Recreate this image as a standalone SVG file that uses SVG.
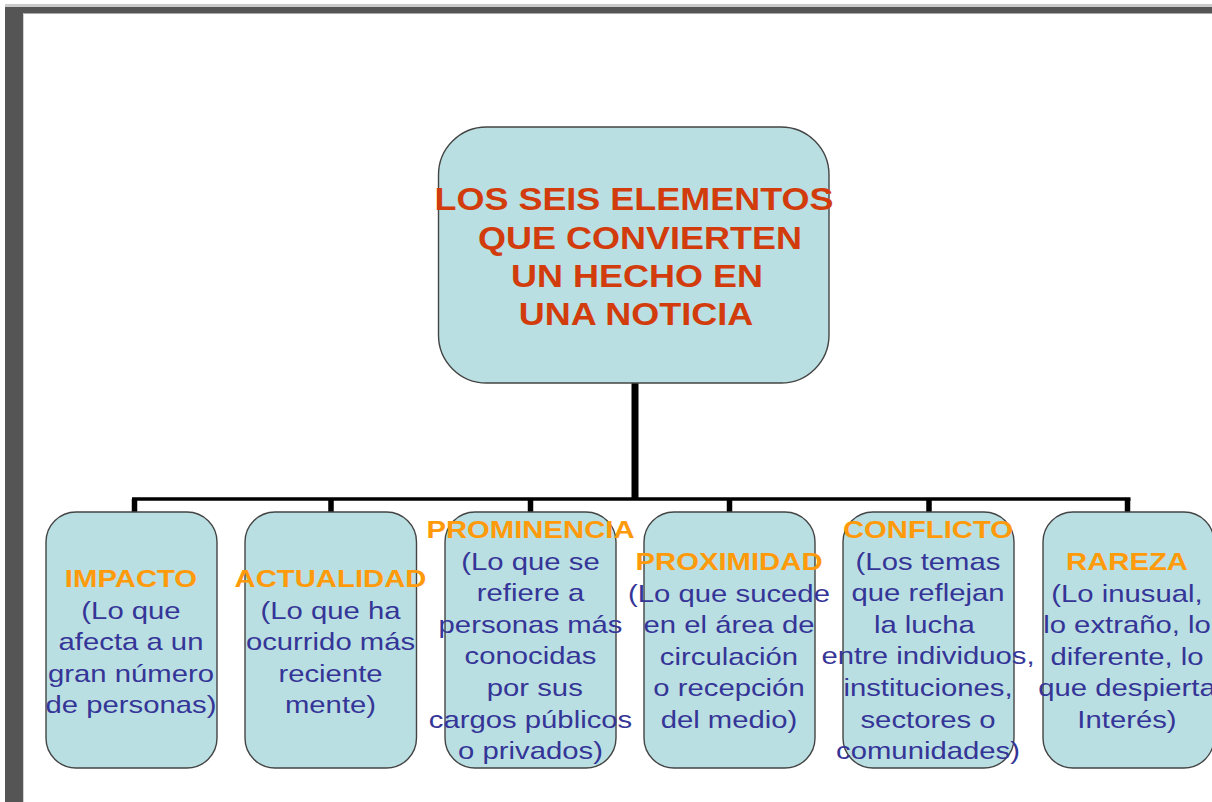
<svg xmlns="http://www.w3.org/2000/svg" width="1212" height="802" viewBox="0 0 1212 802">
<style>
.box{fill:#b9dfe2;stroke:#444;stroke-width:1.4}
.main{font-family:"Liberation Sans",Arial,sans-serif;font-weight:bold;font-size:30.5px;fill:#d23c0c;text-anchor:middle}
.t{font-family:"Liberation Sans",Arial,sans-serif;font-weight:bold;font-size:24px;fill:#ff9a0a;text-anchor:middle}
.b{font-family:"Liberation Sans",Arial,sans-serif;font-size:24px;fill:#353597;text-anchor:middle}
.wire{stroke:#000;fill:none}
</style>
<rect x="0" y="0" width="1212" height="802" fill="#fff"/>
<g id="frame">
<rect x="5" y="4" width="1207" height="3" fill="#cacaca"/>
<rect x="5" y="7" width="1207" height="6.5" fill="#555"/>
<rect x="5" y="7" width="18" height="795" fill="#555"/>
<rect x="23" y="13.5" width="1" height="789" fill="#d0d0d0"/>
</g>
<g id="connectors">
<line class="wire" x1="635" y1="383" x2="635" y2="500" stroke-width="7"/>
<line class="wire" x1="132" y1="499" x2="1130.5" y2="499" stroke-width="3.5"/>
<line class="wire" x1="134.5" y1="499" x2="134.5" y2="512" stroke-width="5.5"/>
<line class="wire" x1="331" y1="499" x2="331" y2="512" stroke-width="5.5"/>
<line class="wire" x1="530.5" y1="499" x2="530.5" y2="512" stroke-width="5.5"/>
<line class="wire" x1="729.5" y1="499" x2="729.5" y2="512" stroke-width="5.5"/>
<line class="wire" x1="929" y1="499" x2="929" y2="512" stroke-width="5.5"/>
<line class="wire" x1="1127.5" y1="499" x2="1127.5" y2="512" stroke-width="5.5"/>
</g>
<g id="root">
<rect class="box" x="438.5" y="127" width="390.5" height="256" rx="48" ry="48"/>
<g transform="translate(634 0) scale(1.18 1)"><text class="main" x="0" y="210">LOS SEIS ELEMENTOS</text></g>
<g transform="translate(640 0) scale(1.18 1)"><text class="main" x="0" y="249">QUE CONVIERTEN</text></g>
<g transform="translate(637 0) scale(1.18 1)"><text class="main" x="0" y="287">UN HECHO EN</text></g>
<g transform="translate(636 0) scale(1.18 1)"><text class="main" x="0" y="325">UNA NOTICIA</text></g>
</g>
<g id="impacto">
<rect class="box" x="46" y="512" width="171" height="256" rx="30" ry="30"/>
<g transform="translate(131 0) scale(1.22 1)">
<text class="t" x="0" y="587">IMPACTO</text>
<text class="b" x="0" y="619">(Lo que</text>
<text class="b" x="0" y="650.5">afecta a un</text>
<text class="b" x="0" y="682">gran número</text>
<text class="b" x="0" y="713">de personas)</text>
</g>
</g>
<g id="actualidad">
<rect class="box" x="245" y="512" width="171.5" height="256" rx="30" ry="30"/>
<g transform="translate(330.5 0) scale(1.22 1)">
<text class="t" x="0" y="587">ACTUALIDAD</text>
<text class="b" x="0" y="619">(Lo que ha</text>
<text class="b" x="0" y="650.5">ocurrido más</text>
<text class="b" x="0" y="682">reciente</text>
<text class="b" x="0" y="713">mente)</text>
</g>
</g>
<g id="prominencia">
<rect class="box" x="445" y="512" width="171" height="256" rx="30" ry="30"/>
<g transform="translate(530.5 0) scale(1.22 1)">
<text class="t" x="0" y="538">PROMINENCIA</text>
<text class="b" x="0" y="569.6">(Lo que se</text>
<text class="b" x="0" y="601.2">refiere a</text>
<text class="b" x="0" y="632.8">personas más</text>
<text class="b" x="0" y="664.4">conocidas</text>
<text class="b" x="3.5" y="696">por sus</text>
<text class="b" x="0" y="727.6">cargos públicos</text>
<text class="b" x="0" y="759.2">o privados)</text>
</g>
</g>
<g id="proximidad">
<rect class="box" x="644" y="512" width="171" height="256" rx="30" ry="30"/>
<g transform="translate(729 0) scale(1.22 1)">
<text class="t" x="0" y="570.5">PROXIMIDAD</text>
<text class="b" x="0" y="602">(Lo que sucede</text>
<text class="b" x="0" y="633.5">en el área de</text>
<text class="b" x="0" y="665">circulación</text>
<text class="b" x="0" y="696.5">o recepción</text>
<text class="b" x="0" y="728">del medio)</text>
</g>
</g>
<g id="conflicto">
<rect class="box" x="843" y="512" width="171" height="256" rx="30" ry="30"/>
<g transform="translate(928 0) scale(1.22 1)">
<text class="t" x="0" y="538">CONFLICTO</text>
<text class="b" x="0" y="569.6">(Los temas</text>
<text class="b" x="0" y="601.2">que reflejan</text>
<text class="b" x="-3" y="632.8">la lucha</text>
<text class="b" x="0" y="664.4">entre individuos,</text>
<text class="b" x="0" y="696">instituciones,</text>
<text class="b" x="0" y="727.6">sectores o</text>
<text class="b" x="0" y="759.2">comunidades)</text>
</g>
</g>
<g id="rareza">
<rect class="box" x="1043" y="512" width="171" height="256" rx="30" ry="30"/>
<g transform="translate(1127 0) scale(1.22 1)">
<text class="t" x="0" y="570.5">RAREZA</text>
<text class="b" x="0" y="602">(Lo inusual,</text>
<text class="b" x="0" y="633.5">lo extraño, lo</text>
<text class="b" x="0" y="665">diferente, lo</text>
<text class="b" x="0" y="696.5">que despierta</text>
<text class="b" x="0" y="728">Interés)</text>
</g>
</g>
</svg>
